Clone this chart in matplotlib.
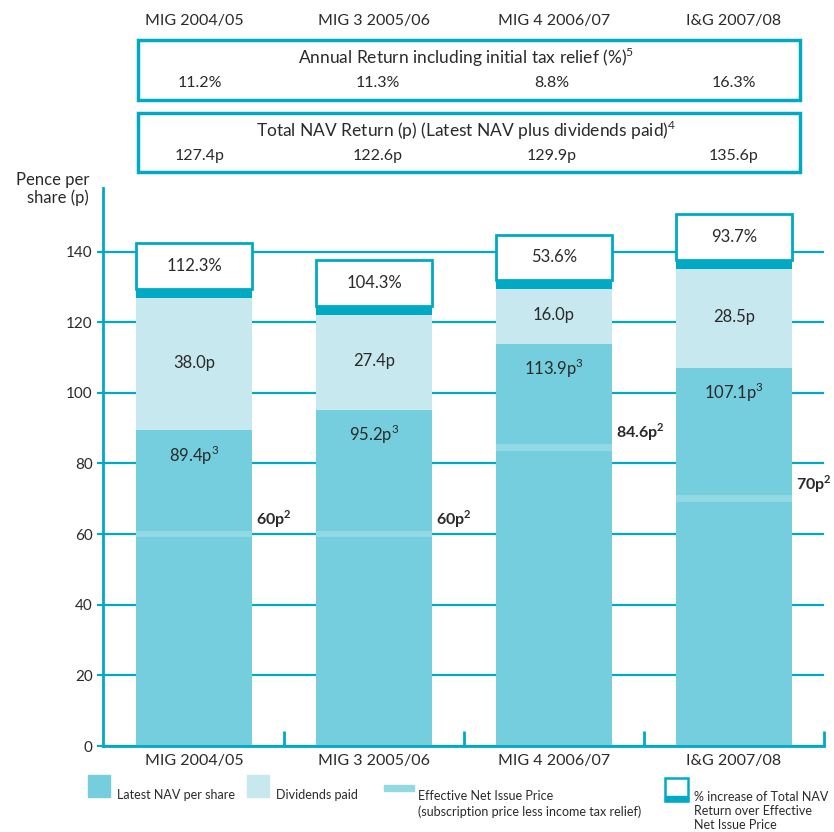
import numpy as np
import matplotlib
matplotlib.use('Agg')
from matplotlib import pyplot as plt
from matplotlib.patches import Rectangle

plt.rcParams['font.family'] = ['Lato', 'DejaVu Sans']
plt.rcParams['mathtext.fontset'] = 'custom'
plt.rcParams['mathtext.rm'] = 'Lato'
plt.rcParams['mathtext.bf'] = 'Lato:bold'

funds = ['MIG 2004/05', 'MIG 3 2005/06', 'MIG 4 2006/07', 'I&G 2007/08']
nav = [89.4, 95.2, 113.9, 107.1]
dividends = [38.0, 27.4, 16.0, 28.5]
issue_price = [60, 60, 84.6, 70]
issue_labels = ['60p', '60p', '84.6p', '70p']
pct_increase = ['112.3%', '104.3%', '53.6%', '93.7%']
annual_return = ['11.2%', '11.3%', '8.8%', '16.3%']
total_nav = ['127.4p', '122.6p', '129.9p', '135.6p']

teal = '#00aac5'
nav_col = '#74cedd'
div_col = '#c8e8ef'
stripe_col = '#93d9e4'
txt = '#2a2a2a'

W, H = 834, 832
fig = plt.figure(figsize=(W / 100, H / 100), dpi=100)
ax = fig.add_axes([103 / W, 86 / H, 721 / W, 558 / H])

x = np.arange(len(funds))
bw = 0.644
totals = np.array(nav) + np.array(dividends)

ax.set_axisbelow(True)
ax.yaxis.grid(True, color=teal, lw=1.6)
ax.bar(x, nav, bw, color=nav_col, zorder=2)
ax.bar(x, dividends, bw, bottom=nav, color=div_col, zorder=2)
ax.bar(x, 2.7, bw, bottom=totals - 0.6, color=teal, zorder=3)
ax.bar(x, 12.8, bw, bottom=totals + 2.1, color='white', edgecolor=teal, lw=2, zorder=3)
ax.bar(x, 1.9, bw, bottom=np.array(issue_price) - 0.95, color=stripe_col, zorder=3)

for i in range(len(funds)):
    ax.text(x[i], nav[i] - 7, '%.1fp$^{\\mathrm{3}}$' % nav[i], ha='center', va='center', fontsize=12,
            color=txt, zorder=4)
    ax.text(x[i], nav[i] + dividends[i] / 2, '%.1fp' % dividends[i], ha='center', va='center', fontsize=12,
            color=txt, zorder=4)
    ax.text(x[i], totals[i] + 2.1 + 6.4, pct_increase[i], ha='center', va='center', fontsize=12, color=txt,
            zorder=4)
    ax.text(x[i] + bw / 2 + 0.02, issue_price[i] + 1.2, issue_labels[i] + '$^{\\mathbf{2}}$', ha='left',
            va='bottom', fontsize=11.5, fontweight='bold', color=txt, zorder=4)

ax.set_xlim(-0.506, 3.5)
ax.set_ylim(0, 158)
ax.set_yticks(range(0, 141, 20))
ax.tick_params(axis='y', colors=teal, labelcolor=txt, labelsize=11, length=4, width=1.5)
ax.set_xticks(x)
ax.set_xticklabels(funds, fontsize=11.5, color=txt)
ax.tick_params(axis='x', length=0, pad=6)
ax.set_xticks([0.5, 1.5, 2.5, 3.5], minor=True)
ax.tick_params(axis='x', which='minor', direction='in', length=11, width=2, colors=teal)
for s in ['top', 'right']:
    ax.spines[s].set_visible(False)
for s in ['left', 'bottom']:
    ax.spines[s].set_color(teal)
    ax.spines[s].set_linewidth(2)

fig.text(89 / W, 1 - 189 / H, 'Pence per\nshare (p)', ha='right', va='center', fontsize=12, color=txt,
         linespacing=1.15)

# top boxes
cx = [(194 + 180 * i) / W for i in range(4)]
vx = [200 / W, 378 / W, 552 / W, 734 / W]
for i, f in enumerate(funds):
    fig.text(cx[i], 1 - 21 / H, f, ha='center', va='center', fontsize=11.5, color=txt)
for y0, y1, title, vals in [(40, 100, 'Annual Return including initial tax relief (%)$^{\\mathrm{5}}$', annual_return),
                            (113, 172, 'Total NAV Return (p) (Latest NAV plus dividends paid)$^{\\mathrm{4}}$', total_nav)]:
    fig.patches.append(Rectangle((138 / W, 1 - y1 / H), 662 / W, (y1 - y0) / H, transform=fig.transFigure,
                                 fill=False, edgecolor=teal, lw=2.5))
    fig.text(466 / W, 1 - (y0 + 17) / H, title, ha='center', va='center', fontsize=12.5, color=txt)
    for i, v in enumerate(vals):
        fig.text(vx[i], 1 - (y0 + 43) / H, v, ha='center', va='center', fontsize=11.5, color=txt)

# legend
def fig_rect(x0, y0, w, h, **kw):
    fig.patches.append(Rectangle((x0 / W, 1 - (y0 + h) / H), w / W, h / H, transform=fig.transFigure, **kw))

fig_rect(88, 775, 22, 22, color=nav_col)
fig.text(117 / W, 1 - 795 / H, 'Latest NAV per share', fontsize=9, color=txt, va='center')
fig_rect(247, 775, 22, 22, color=div_col)
fig.text(276 / W, 1 - 795 / H, 'Dividends paid', fontsize=9, color=txt, va='center')
fig_rect(384, 785, 30, 6, color=stripe_col)
fig.text(418 / W, 1 - 804 / H, 'Effective Net Issue Price\n(subscription price less income tax relief)', fontsize=9,
         color=txt, va='center', linespacing=1.25)
fig_rect(665, 778, 23, 23, facecolor='white', edgecolor=teal, lw=1.8)
fig_rect(665, 796, 23, 5, color=teal)
fig.text(694 / W, 1 - 811 / H, '% increase of Total NAV\nReturn over Effective\nNet Issue Price', fontsize=9,
         color=txt, va='center', linespacing=1.2)

fig.savefig('out.png', dpi=100)
